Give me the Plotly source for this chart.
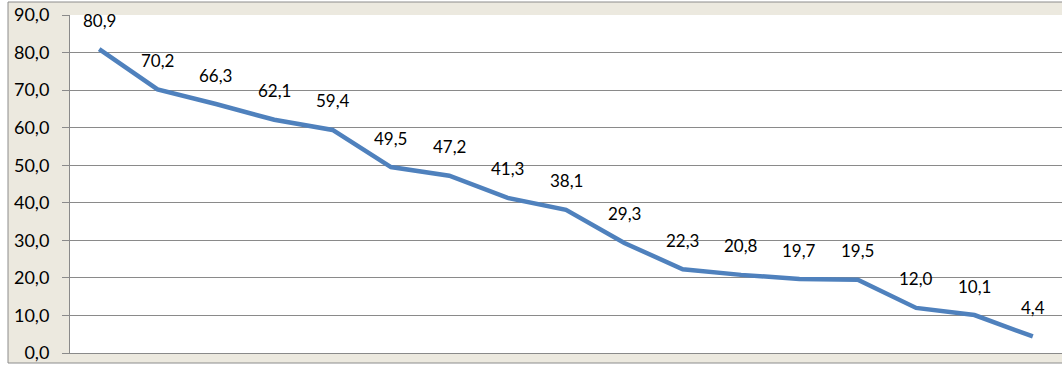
import plotly.graph_objects as go

# Series values (comma decimal separator in the display)
positions = list(range(1, 18))
values = [80.9, 70.2, 66.3, 62.1, 59.4, 49.5, 47.2, 41.3, 38.1,
          29.3, 22.3, 20.8, 19.7, 19.5, 12.0, 10.1, 4.4]
y_ticks = [0, 10, 20, 30, 40, 50, 60, 70, 80, 90]

FONT = "Lato, 'Open Sans', sans-serif"
GRID = "#8a8a8a"
BEIGE = "#ECE9DF"
FRAME = "#8c8c8c"

fig = go.Figure()
fig.add_trace(go.Scatter(
    x=positions, y=values, mode="lines",
    line=dict(color="#4F81BD", width=4.5),
    hoverinfo="skip", showlegend=False,
))

# value labels above each point
for xv, yv in zip(positions, values):
    fig.add_annotation(
        x=xv, y=yv, text=f"{yv:.1f}".replace(".", ","),
        showarrow=False, yanchor="middle", yshift=29,
        font=dict(family=FONT, size=17, color="#000000"),
    )

# white margin outside the chart-area frame, then the frame line itself
W, H = 992, 338  # plot-area size in px
def px_x(p):
    return (p - 70) / W
def px_y(p):
    return (353 - p) / H

for x0, x1, y0, y1 in [
    (px_x(0), px_x(8), px_y(370), px_y(0)),      # left strip
    (px_x(0), px_x(1062), px_y(370), px_y(363)),  # bottom strip
    (px_x(0), px_x(1062), px_y(2), px_y(0)),      # top strip
]:
    fig.add_shape(type="rect", xref="paper", yref="paper", layer="above",
                  x0=x0, x1=x1, y0=y0, y1=y1,
                  fillcolor="#FFFFFF", line=dict(width=0))
fig.add_shape(type="rect", xref="paper", yref="paper", layer="above",
              x0=px_x(8), x1=px_x(1070), y0=px_y(363), y1=px_y(2),
              fillcolor="rgba(0,0,0,0)", line=dict(color=FRAME, width=1))

fig.update_layout(
    width=1062, height=370,
    margin=dict(l=70, r=0, t=15, b=17),
    paper_bgcolor=BEIGE, plot_bgcolor="#FFFFFF",
    separators=", ",
    font=dict(family=FONT, size=17, color="#000000"),
    xaxis=dict(
        range=[0.5, 17.5], showticklabels=False, showgrid=False,
        zeroline=False, showline=True, linecolor=GRID, linewidth=1,
        ticks="", fixedrange=True,
    ),
    yaxis=dict(
        range=[0, 90], tickvals=y_ticks, tickformat=".1f",
        showgrid=True, gridcolor=GRID, gridwidth=1,
        zeroline=False, showline=True, linecolor=GRID, linewidth=1,
        ticks="outside", ticklen=7, tickcolor=GRID,
        ticklabelstandoff=9,
        tickfont=dict(family=FONT, size=18, color="#000000"),
        fixedrange=True,
    ),
)

fig.write_html("out.html")
